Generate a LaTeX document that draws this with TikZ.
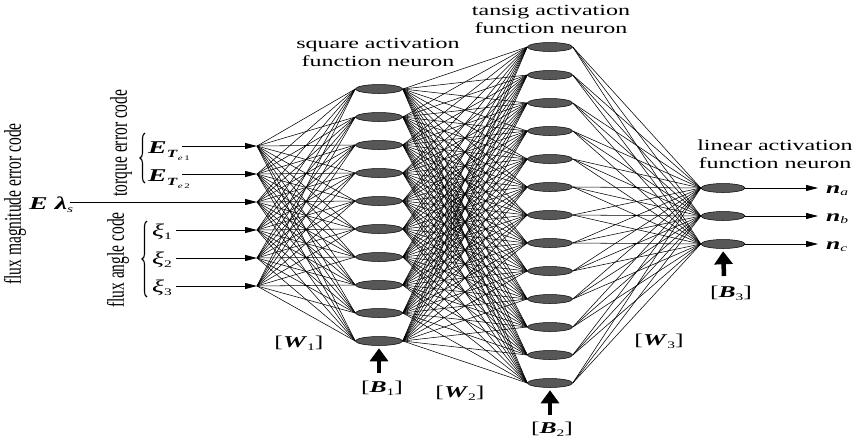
\documentclass[tikz,border=0pt]{standalone}
\usepackage{fontspec}
\setmainfont{Liberation Serif}
\usetikzlibrary{shapes.geometric,arrows.meta,decorations.pathreplacing}
\newcommand{\hs}[1]{\scalebox{1.55}[1]{#1}}
\newcommand{\bi}[1]{\textbf{\textit{#1}}}
\newcommand{\mysb}[2][-3pt]{\raisebox{#1}{\fontsize{10}{10}\selectfont #2}}
\newcommand{\myTe}[1]{\raisebox{-4pt}{\fontsize{11}{11}\selectfont\bi{T}\raisebox{-3pt}{\fontsize{7}{7}\selectfont\textit{e}\,#1}}}
\tikzset{
  txt/.style={font=\fontsize{15.5}{17.5}\selectfont, inner sep=0pt},
  mtxt/.style={font=\fontsize{18}{18}\selectfont, inner sep=0pt},
  btxt/.style={font=\fontsize{16.5}{16.5}\selectfont, inner sep=0pt},
  neuron/.style={ellipse, draw=black, line width=0.5pt, fill=black!66, minimum height=9pt, inner sep=0pt},
  conn/.style={line width=0.55pt, black},
  inarrow/.style={line width=0.75pt, -{Triangle[length=12pt,width=6pt]}},
  bias/.style={line width=4.5pt, -{Triangle[length=13pt,width=18pt]}}
}
\begin{document}
\begin{tikzpicture}[x=1pt,y=-1pt]
\useasboundingbox (0,0) rectangle (854,440);
% neurons
\foreach \i in {1,...,10} \node[neuron, minimum width=47pt] (a\i) at (379,{89+28*(\i-1)}) {};
\foreach \j in {1,...,13} \node[neuron, minimum width=45pt] (b\j) at (550,{47+28*(\j-1)}) {};
\foreach \k in {1,2,3} \node[neuron, minimum width=44pt] (c\k) at (723,{188+28*(\k-1)}) {};
% input points
\foreach \i/\y in {1/146,2/174,3/202,4/230,5/258,6/286} \coordinate (in\i) at (257,\y);
% connections
\foreach \i in {1,...,6} \foreach \j in {1,...,10} \draw[conn] (in\i) -- (a\j.west);
\foreach \i in {1,...,10} \foreach \j in {1,...,13} \draw[conn] (a\i.east) -- (b\j.west);
\foreach \j in {1,...,13} \foreach \k in {1,2,3} \draw[conn] (b\j.east) -- (c\k.west);
% input arrows
\coordinate (s1) at (182,146);
\coordinate (s2) at (182,174);
\coordinate (s3) at (70,202);
\coordinate (s4) at (176,230);
\coordinate (s5) at (176,258);
\coordinate (s6) at (176,286);
\foreach \i in {1,...,6} \draw[inarrow] (s\i) -- (in\i);
% output arrows
\foreach \k/\y in {1/188,2/216,3/244} {
  \coordinate (o\k) at (818,\y);
  \draw[inarrow] (c\k.east) -- (o\k);
}
% input labels
\node[mtxt, anchor=base west] (le1) at (148,153) {\hs{\bi{E}\myTe{1}}};
\node[mtxt, anchor=base west] (le2) at (148,181) {\hs{\bi{E}\myTe{2}}};
\node[mtxt, anchor=base west] (lel) at (29,209) {\hs{\bi{E λ}\mysb{\textit{s}}}};
\node[mtxt, anchor=base west] (lx1) at (152,236) {\hs{\textit{ξ}\mysb{1}}};
\node[mtxt, anchor=base west] (lx2) at (152,264) {\hs{\textit{ξ}\mysb{2}}};
\node[mtxt, anchor=base west] (lx3) at (152,292) {\hs{\textit{ξ}\mysb{3}}};
% braces
\draw[line width=1.1pt, decorate, decoration={brace, amplitude=5pt}] (145,183) -- (145,133);
\draw[line width=1.1pt, decorate, decoration={brace, amplitude=5pt}] (147,297) -- (147,221);
% rotated labels
\node[txt] (rf) at (15,204) {\hs{\rotatebox{90}{flux magnitude error code}}};
\node[txt] (rt) at (121,143) {\hs{\rotatebox{90}{torque error code}}};
\node[txt] (ra) at (118,260) {\hs{\rotatebox{90}{flux angle code}}};
% output labels
\node[btxt, anchor=base west] (na) at (826,193) {\hs{\bi{n}\mysb[-2.5pt]{\textit{a}}}};
\node[btxt, anchor=base west] (nb) at (826,221) {\hs{\bi{n}\mysb[-2.5pt]{\textit{b}}}};
\node[btxt, anchor=base west] (nc) at (826,249) {\hs{\bi{n}\mysb[-2.5pt]{\textit{c}}}};
% titles
\node[txt] (t1) at (378,54) {\hs{\begin{tabular}{@{}c@{}}square activation\\function neuron\end{tabular}}};
\node[txt] (t2) at (551,21) {\hs{\begin{tabular}{@{}c@{}}tansig activation\\function neuron\end{tabular}}};
\node[txt] (t3) at (775,156) {\hs{\begin{tabular}{@{}c@{}}linear activation\\function neuron\end{tabular}}};
% biases
\coordinate (bb1) at (379,373);
\coordinate (bb2) at (550,415);
\coordinate (bb3) at (724,276);
\draw[bias, shorten >=2.5pt] (bb1) -- (a10.south);
\draw[bias, shorten >=2.5pt] (bb2) -- (b13.south);
\draw[bias, shorten >=2.5pt] (bb3) -- (c3.south);
\node[btxt] (lb1) at (382,388) {\hs{[\bi{B}\mysb{1}]}};
\node[btxt] (lb2) at (552,429) {\hs{[\bi{B}\mysb{2}]}};
\node[btxt] (lb3) at (731,293) {\hs{[\bi{B}\mysb{3}]}};
\node[btxt] (lw1) at (299,343) {\hs{[\bi{W}\mysb{1}]}};
\node[btxt] (lw2) at (460,393) {\hs{[\bi{W}\mysb{2}]}};
\node[btxt] (lw3) at (659,341) {\hs{[\bi{W}\mysb{3}]}};
\end{tikzpicture}
\end{document}
